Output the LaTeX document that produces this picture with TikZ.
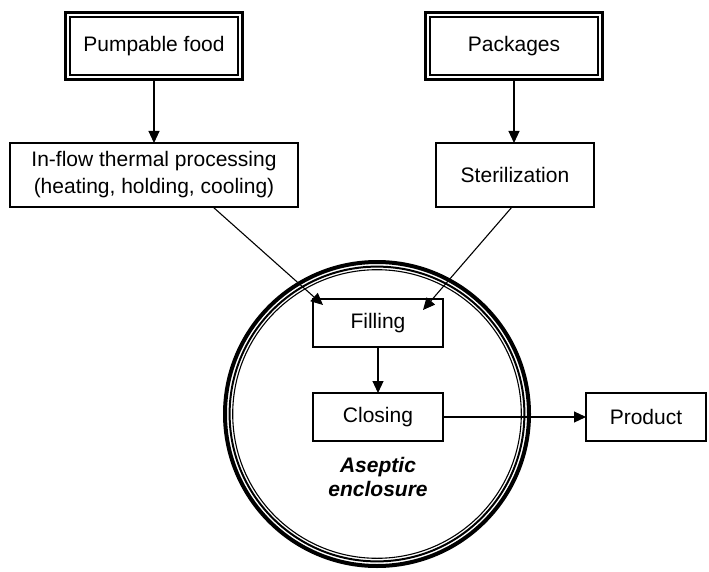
\documentclass[tikz,border=0pt]{standalone}
\usepackage{fontspec}
\setmainfont{Liberation Sans}
\usetikzlibrary{arrows.meta}

\begin{document}
\begin{tikzpicture}[x=1pt,y=-1pt,
    box/.style={draw,line width=1.2pt,inner sep=0pt,outer sep=0pt,align=center,
      font=\fontsize{21}{27}\selectfont},
    dbox/.style={box,line width=2.8pt,minimum width=177,minimum height=67},
    conn/.style={line width=1.1pt,-{Triangle[length=12pt,width=11pt]}}]
  \useasboundingbox (0,0) rectangle (709,572);
  % heavy ring with two thin rings inside
  \foreach \r/\w in {152/4,147.4/2,144.3/1.1}
    \draw[line width=\w pt] (377,414) circle[radius=\r pt];

      \draw (154,46) node[dbox] (food) {Pumpable food};
      \draw (514,46) node[dbox] (pack) {Packages};
  \foreach \n in {food,pack}
    \draw[line width=1.2pt] ([shift={(4.5,4.5)}]\n.north west) rectangle ([shift={(-4.5,-4.5)}]\n.south east);
  \draw (154,175) node[box,minimum width=288,minimum height=64] (heat) {In-flow thermal processing\\(heating, holding, cooling)};
  \draw (515,175) node[box,minimum width=158,minimum height=64] (steril) {Sterilization};
  \draw (378,323) node[box,minimum width=130,minimum height=48] (fill) {Filling};
  \draw (378,417) node[box,minimum width=130,minimum height=48] (close) {Closing};
  \draw (646,417) node[box,minimum width=120,minimum height=48] (prod) {Product};
  \draw (378,477) node[align=center,font=\fontsize{21}{24}\selectfont\bfseries\itshape] (encl) {Aseptic\\enclosure};

     \path[conn] (food.south) edge (food.south |- heat.north);
     \path[conn] (pack.south) edge (pack.south |- steril.north);
     \path[conn] ([xshift=59]heat.south) edge ([shift={(10,6)}]fill.north west);
     \path[conn] ([xshift=-3]steril.south) edge ([shift={(-20,11)}]fill.north east);
     \path[conn] (fill) edge (close);
     \path[conn] (close) edge (prod);
\end{tikzpicture}
\end{document}
